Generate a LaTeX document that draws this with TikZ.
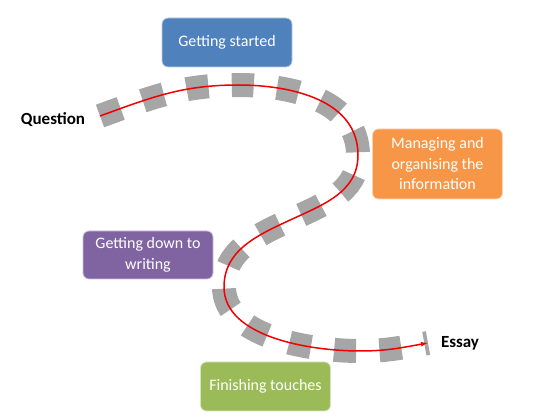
\documentclass[tikz,border=0pt]{standalone}
\usepackage{fontspec}
\setmainfont{Carlito}
\usetikzlibrary{arrows.meta,positioning}
\definecolor{stageblue}{RGB}{79,129,189}
\definecolor{stageorange}{RGB}{247,150,70}
\definecolor{stagepurple}{RGB}{128,100,162}
\definecolor{stagegreen}{RGB}{155,187,89}
\definecolor{trailgray}{RGB}{166,166,166}
\definecolor{pathred}{RGB}{240,0,0}

\begin{document}
\begin{tikzpicture}[
    x=1pt, y=1pt,
    stage/.style={draw=#1!40!white, line width=0.8pt, rounded corners=6pt, fill=#1, text=white, align=center, inner sep=2pt, minimum width=130pt, minimum height=49pt, font=\fontsize{16}{20.5}\selectfont},
    label/.style={font=\fontsize{17}{20}\selectfont\bfseries},
    trail/.style={draw=trailgray, line width=24pt, dash pattern=on 22pt off 23.4pt},
    route/.style={draw=pathred, line width=1.5pt, -{Latex[length=7pt, width=5pt]}}
  ]
    \useasboundingbox (0,0) rectangle (539,418);
    % points of the route
    \coordinate (start) at (100,302);
    \coordinate (top) at (238,333);
    \coordinate (rgt) at (358,263);
    \coordinate (mid) at (288,197);
    \coordinate (lft) at (224,131);
    \coordinate (bot) at (360,67);
    \coordinate (finish) at (428,75);
    \draw[trail] (start) to[out=20,in=180] (top) to[out=0,in=90] (rgt) to[out=-90,in=25] (mid)
      to[out=205,in=90] (lft) to[out=-90,in=180,out distance=50pt,in distance=50pt] (bot) to[out=0,in=190] (finish);
    \draw[trailgray, line width=0.8pt] (finish) ++(-3,11) -- ++(4,-23);
    \draw[route] (start) to[out=20,in=180] (top) to[out=0,in=90] (rgt) to[out=-90,in=25] (mid)
      to[out=205,in=90] (lft) to[out=-90,in=180,out distance=50pt,in distance=50pt] (bot) to[out=0,in=190] (finish);
    % stages
    \node[stage=stageblue] (started) at (227,375.5) {Getting started};
    \node[stage=stageorange, minimum height=70pt] (managing) at (437.5,254) {Managing and\\organising the\\information};
    \node[stage=stagepurple, minimum height=48pt] (writing) at (148,163) {Getting down to\\writing};
    \node[stage=stagegreen] (finishing) at (265.5,31.5) {Finishing touches};
    \node[label] (question) at (53,298) {Question};
    \node[label] (essay) at (460,75) {Essay};
  \end{tikzpicture}
\end{document}
